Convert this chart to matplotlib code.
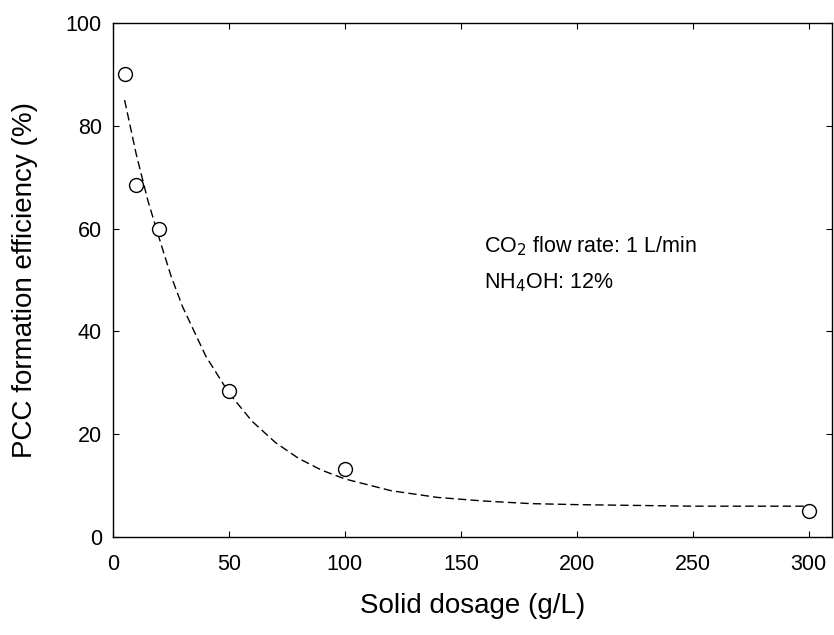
#!/usr/bin/env python3
"""
PCC formation efficiency vs. solid dosage.
"""

import matplotlib.pyplot as plt

plt.rcParams["font.family"] = ["Liberation Sans", "DejaVu Sans"]

# measured points
dosage = [5, 10, 20, 50, 100, 300]
efficiency = [90, 68.5, 60, 28.5, 13.3, 5]

# fitted curve
fit_x = [5, 10, 15, 20, 25, 30, 40, 50, 60, 70, 80, 90, 100, 120, 140,
         160, 180, 200, 250, 300]
fit_y = [85, 74.5, 65.5, 58, 50.8, 44.8, 35.2, 28, 22.5, 18.4, 15.3, 13,
         11.3, 9.0, 7.7, 7.0, 6.5, 6.3, 6.0, 6.0]

x_ticks = [0, 50, 100, 150, 200, 250, 300]
y_ticks = [0, 20, 40, 60, 80, 100]


def main():
    fig = plt.figure(figsize=(8.34, 6.35), dpi=100)
    ax = fig.add_axes([0.1355, 0.1543, 0.862, 0.8095])

    ax.plot(fit_x, fit_y, color="black", linestyle=(0, (6, 3)), linewidth=1.0)
    ax.plot(dosage, efficiency, linestyle="none", marker="o", markersize=10,
            markerfacecolor="white", markeredgecolor="black",
            markeredgewidth=1.0)

    ax.text(160, 56.5, "CO$_2$ flow rate: 1 L/min", fontsize=15.5,
            va="center", ha="left")
    ax.text(160, 49.5, "NH$_4$OH: 12%", fontsize=15.5, va="center", ha="left")

    ax.set_xlim(0, 310)
    ax.set_ylim(0, 100)
    ax.set_xticks(x_ticks)
    ax.set_yticks(y_ticks)
    ax.tick_params(axis="both", direction="in", top=True, right=True,
                   length=4, labelsize=15.5)
    ax.tick_params(axis="x", pad=12)
    ax.tick_params(axis="y", pad=8)
    for spine in ax.spines.values():
        spine.set_linewidth(1.0)

    ax.set_xlabel("Solid dosage (g/L)", fontsize=20, labelpad=13)
    ax.set_ylabel("PCC formation efficiency (%)", fontsize=20, labelpad=20)

    fig.savefig("out.png", dpi=100)
    plt.close(fig)


if __name__ == "__main__":
    main()
